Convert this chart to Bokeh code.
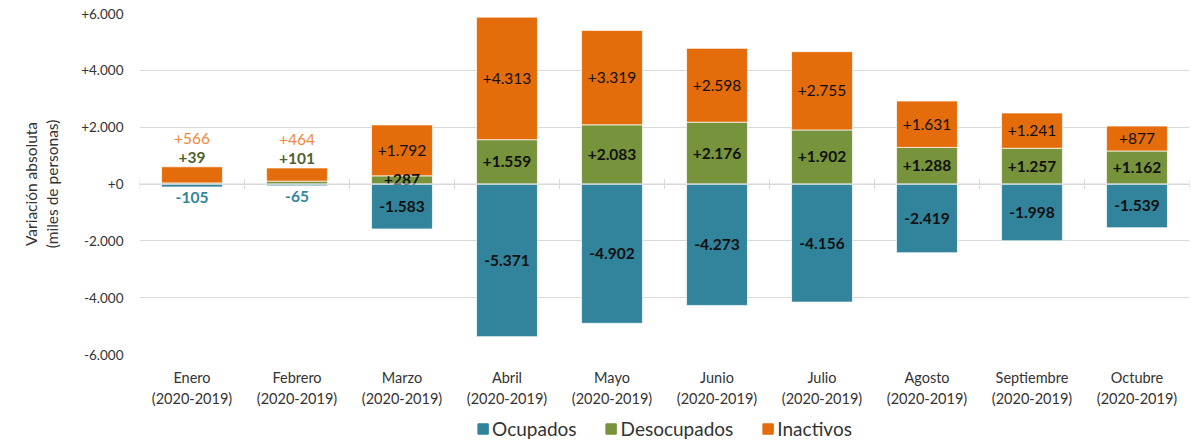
from bokeh.plotting import figure
from bokeh.layouts import column
from bokeh.models import (ColumnDataSource, Range1d, FixedTicker, Span,
                          Legend, LegendItem, LinearAxis)
from bokeh.core.properties import value
from bokeh.embed import file_html
from bokeh.resources import INLINE

# ---- data ----
months = ["Enero", "Febrero", "Marzo", "Abril", "Mayo", "Junio", "Julio",
          "Agosto", "Septiembre", "Octubre"]
period = "(2020-2019)"
ocupados = [-105, -65, -1583, -5371, -4902, -4273, -4156, -2419, -1998, -1539]
desocupados = [39, 101, 287, 1559, 2083, 2176, 1902, 1288, 1257, 1162]
inactivos = [566, 464, 1792, 4313, 3319, 2598, 2755, 1631, 1241, 877]
series = ["Ocupados", "Desocupados", "Inactivos"]
y_ticks = [-6000, -4000, -2000, 0, 2000, 4000, 6000]

C_OCU = "#31849b"
C_DES = "#77933c"
C_INA = "#e46c0a"
FONT = "Lato"
TXT = "#333333"
GRID = "#d9d9d9"


def fmt(v):
    s = f"{abs(v):,}".replace(",", ".")
    return ("+" if v >= 0 else "-") + s


nb = len(months)
xpos = [i + 0.5 for i in range(nb)]
src = ColumnDataSource(dict(x=xpos, ocu=ocupados, des=desocupados, ina=inactivos))

p = figure(width=1190, height=409, x_range=Range1d(0, nb),
           y_range=Range1d(-6000, 6000), output_backend="svg", toolbar_location=None,
           min_border_left=139, min_border_right=1, min_border_top=13,
           min_border_bottom=0, x_axis_type=None)
p.outline_line_color = None

# grid
p.xgrid.grid_line_color = None
p.ygrid.ticker = FixedTicker(ticks=y_ticks)
p.ygrid.grid_line_color = GRID

# zero line with separators between categories
p.add_layout(Span(location=0, dimension="width", line_color=GRID, line_width=1))
bounds = list(range(nb + 1))
p.segment(x0=bounds, x1=bounds, y0=[-180] * len(bounds), y1=[180] * len(bounds),
          line_color=GRID, line_width=1)

bw = 0.58
r_ocu = p.vbar(x="x", top=0, bottom="ocu", width=bw, source=src, fill_color=C_OCU,
               line_color="white", line_width=0.7)
r_stack = p.vbar_stack(["des", "ina"], x="x", width=bw, source=src,
                       fill_color=[C_DES, C_INA], line_color="white", line_width=0.7)

# value labels
lab = dict(x=[], y=[], t=[], yo=[], c=[], w=[])
for i in range(nb):
    o, d, n = ocupados[i], desocupados[i], inactivos[i]
    xx = xpos[i]
    lab["x"] += [xx, xx, xx]
    lab["t"] += [fmt(n), fmt(d), fmt(o)]
    lab["w"] += ["normal", "bold", "bold"]
    if abs(o) < 300:
        top = d + n
        lab["y"] += [top, top, o]
        lab["yo"] += [-28, -9, 11]
        lab["c"] += ["#f0883a", "#4f6228", "#31859c"]
    else:
        lab["y"] += [d + n / 2, d / 2, o / 2]
        lab["yo"] += [0, 0, 0]
        lab["c"] += ["#111111"] * 3

lsrc = ColumnDataSource(lab)
p.text(x="x", y="y", text="t", y_offset="yo", text_color="c", text_font_style="w",
       text_baseline="middle", text_align="center", text_font=value(FONT),
       text_font_size="15.5px", source=lsrc)

# x axes: month names, then period line
def xaxis(labels, standoff):
    return LinearAxis(ticker=FixedTicker(ticks=xpos),
                      major_label_overrides={x: l for x, l in zip(xpos, labels)},
                      axis_line_color=None, major_tick_line_color=None,
                      minor_tick_line_color=None, major_tick_out=0, major_tick_in=0,
                      minor_tick_out=0, minor_tick_in=0,
                      major_label_text_font=FONT, major_label_text_font_size="14.5px",
                      major_label_text_color=TXT, major_label_standoff=standoff)

p.add_layout(xaxis(months, 14), "below")
p.add_layout(xaxis([period] * nb, 1), "below")

p.yaxis.ticker = FixedTicker(ticks=y_ticks)
p.yaxis.major_label_overrides = {t: fmt(t) for t in y_ticks}
p.yaxis.axis_line_color = None
p.yaxis.major_tick_line_color = None
p.yaxis.minor_tick_line_color = None
p.yaxis.major_tick_out = 0
p.yaxis.major_label_text_font = FONT
p.yaxis.major_label_text_font_size = "13.5px"
p.yaxis.major_label_text_color = TXT
p.yaxis.major_label_standoff = 16
p.yaxis.axis_label = "Variación absoluta\n(miles de personas)"
p.yaxis.axis_label_text_font = FONT
p.yaxis.axis_label_text_font_size = "15.5px"
p.yaxis.axis_label_text_font_style = "normal"
p.yaxis.axis_label_text_color = TXT
p.yaxis.axis_label_standoff = 17

# legend strip
pl = figure(width=1190, height=31, x_range=Range1d(0, 1), y_range=Range1d(0, 1),
            output_backend="svg", toolbar_location=None,
            min_border_left=139, min_border_right=1, min_border_top=0,
            min_border_bottom=0)
pl.outline_line_color = None
pl.axis.visible = False
pl.grid.visible = False
items = []
for name, col in zip(series, [C_OCU, C_DES, C_INA]):
    r = pl.vbar(x=[-5], top=[-5], width=0.1, fill_color=col, line_color=col)
    items.append(LegendItem(label=name, renderers=[r]))
legend = Legend(items=items, orientation="horizontal", location="bottom_center",
                label_text_font=FONT, label_text_font_size="19px",
                label_text_color=TXT, glyph_width=13, glyph_height=13,
                spacing=28, label_standoff=3, border_line_color=None,
                background_fill_alpha=0, padding=0, margin=0)
pl.add_layout(legend)

open("out.html", "w").write(file_html(column(p, pl, spacing=0), INLINE))
